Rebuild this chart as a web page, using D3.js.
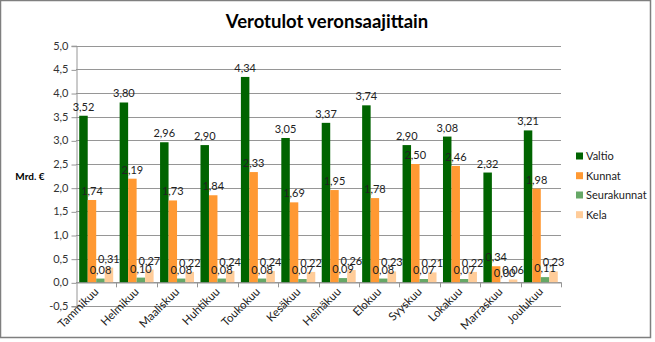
<!DOCTYPE html>
<html><head><meta charset="utf-8">
<script src="https://cdn.jsdelivr.net/npm/d3@7"></script>
<style>
body{margin:0;background:#fff;}
svg{display:block;font-family:Lato,"Open Sans",sans-serif;}
</style></head>
<body><svg id="c" width="655" height="342"></svg>
<script>
const months = ["Tammikuu","Helmikuu","Maaliskuu","Huhtikuu","Toukokuu","Kesäkuu","Heinäkuu","Elokuu","Syyskuu","Lokakuu","Marraskuu","Joulukuu"];
const seriesNames = ["Valtio","Kunnat","Seurakunnat","Kela"];
const valtio = [3.52,3.80,2.96,2.90,4.34,3.05,3.37,3.74,2.90,3.08,2.32,3.21];
const kunnat = [1.74,2.19,1.73,1.84,2.33,1.69,1.95,1.78,2.50,2.46,0.34,1.98];
const seurakunnat = [0.08,0.10,0.08,0.08,0.08,0.07,0.09,0.08,0.07,0.07,0.00,0.11];
const kela = [0.31,0.27,0.22,0.24,0.24,0.22,0.26,0.23,0.21,0.22,0.06,0.23];
const yTicks = [-0.5,0,0.5,1,1.5,2,2.5,3,3.5,4,4.5,5];
const colors = ["#006400","#ff9933","#66a866","#ffcc99"];
const values = [valtio,kunnat,seurakunnat,kela];

const svg = d3.select("#c");
const fmt = v => v.toFixed(2).replace(".", ",");
const fmt1 = v => v.toFixed(1).replace(".", ",");

// frame
svg.append("rect").attr("x",0.5).attr("y",0.5).attr("width",650).attr("height",337)
  .attr("fill","#fff").attr("stroke","#7f7f7f").attr("stroke-width",1.5);

const x0 = d3.scaleBand().domain(months).range([76,561]).paddingInner(0).paddingOuter(0);
const x1 = d3.scaleBand().domain(seriesNames).range([0,x0.bandwidth()]).paddingInner(0).paddingOuter(0.38);
const y = d3.scaleLinear().domain([-0.5,5]).range([306,45.7]);

// gridlines
svg.append("g").selectAll("line").data(yTicks).join("line")
  .attr("x1",76).attr("x2",561).attr("y1",d=>Math.round(y(d))+0.5).attr("y2",d=>Math.round(y(d))+0.5)
  .attr("stroke","#969696").attr("stroke-width",1);

// y axis
const ya = svg.append("g").attr("transform","translate(76.5,0)")
  .call(d3.axisLeft(y).tickValues(yTicks).tickFormat(fmt1).tickSize(5).tickPadding(3));
ya.select(".domain").attr("stroke","#969696");
ya.selectAll(".tick line").attr("stroke","#969696").attr("transform","translate(0,0.5)");
ya.selectAll("text").attr("font-size",11).attr("fill","#333").attr("font-family","Lato,'Open Sans',sans-serif");

// bars
const g = svg.append("g");
seriesNames.forEach((s,si)=>{
  g.append("g").selectAll("rect").data(values[si]).join("rect")
    .attr("x",(d,i)=>x0(months[i])+x1(s))
    .attr("width",x1.bandwidth())
    .attr("y",d=>y(Math.max(0,d)))
    .attr("height",d=>Math.abs(y(d)-y(0)))
    .attr("fill",colors[si]);
});

// x axis at 0
const xa = svg.append("g").attr("transform",`translate(0,${Math.round(y(0))+0.5})`)
  .call(d3.axisBottom(x0).tickSize(0).tickPadding(0));
xa.select(".domain").attr("stroke","#969696");
xa.selectAll(".tick text").remove();
svg.append("g").selectAll("line").data(d3.range(1,13)).join("line")
  .attr("x1",i=>Math.round(76+i*x0.bandwidth())+0.5).attr("x2",i=>Math.round(76+i*x0.bandwidth())+0.5)
  .attr("y1",y(0)).attr("y2",y(0)+5).attr("stroke","#969696");

// category labels rotated
svg.append("g").selectAll("text").data(months).join("text")
  .attr("transform",d=>`translate(${x0(d)+x0.bandwidth()/2+3},${y(0)+10}) rotate(-45)`)
  .attr("text-anchor","end").attr("font-size",11.5).attr("fill","#222").text(d=>d);

// data labels
seriesNames.forEach((s,si)=>{
  g.append("g").selectAll("text").data(values[si]).join("text")
    .attr("x",(d,i)=>x0(months[i])+x1(s)+x1.bandwidth()/2)
    .attr("y",d=>y(d)-5)
    .attr("text-anchor","middle").attr("font-size",11).attr("fill","#222")
    .text(d=>fmt(d));
});

// title
svg.append("text").attr("x",327).attr("y",28).attr("text-anchor","middle")
  .attr("font-size",18.5).attr("font-weight","bold").attr("fill","#000").text("Verotulot veronsaajittain");

// y label
svg.append("text").attr("x",30).attr("y",180).attr("text-anchor","middle")
  .attr("font-size",10).attr("font-weight","bold").attr("fill","#000").text("Mrd. €");

// legend
const lg = svg.append("g");
const ly = [156,175.7,195,214.7];
seriesNames.forEach((s,si)=>{
  lg.append("rect").attr("x",576).attr("y",ly[si]-3.5).attr("width",7).attr("height",7).attr("fill",colors[si]);
  lg.append("text").attr("x",586).attr("y",ly[si]+4).attr("font-size",11).attr("fill","#222").text(s);
});
</script></body></html>
